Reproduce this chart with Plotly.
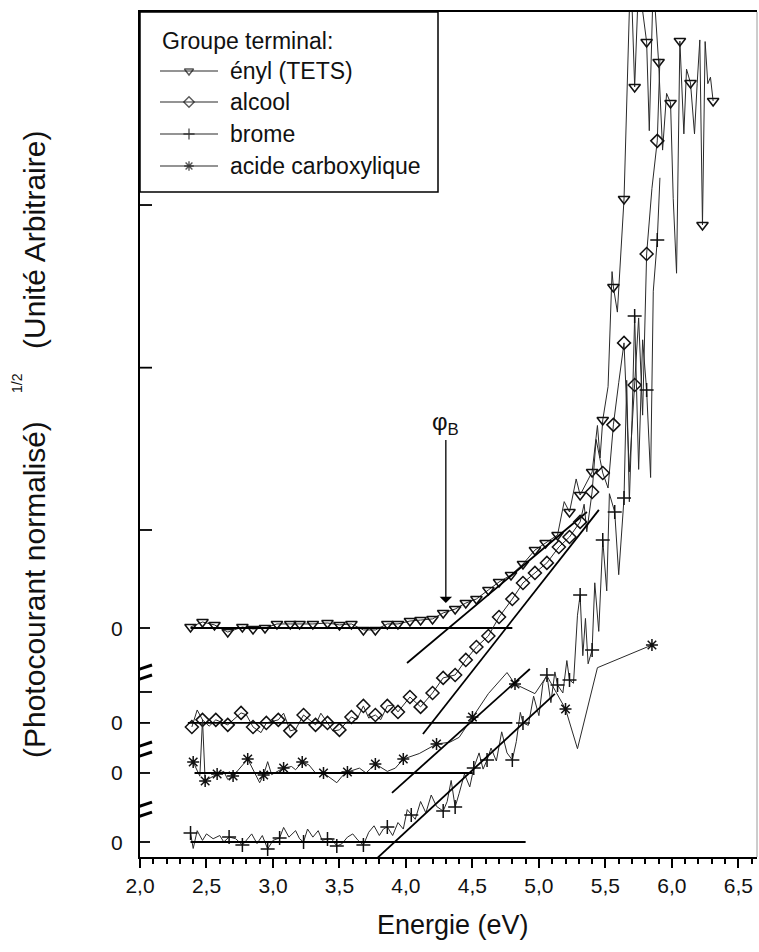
import plotly.graph_objects as go

# ---------------------------------------------------------------------------
# Data: photon energy (eV) and (normalized photocurrent)^1/2 in arbitrary
# units, each curve measured from its own zero level.
# Marker points carry the symbol; "extra" points are line-only samples.
# ---------------------------------------------------------------------------
enyl_E = [2.38, 2.47, 2.56, 2.66, 2.77, 2.85, 2.94, 3.03, 3.13, 3.20, 3.30, 3.41,
          3.50, 3.59, 3.68, 3.77, 3.86, 3.94, 4.03, 4.11, 4.20, 4.28, 4.37, 4.45,
          4.53, 4.62, 4.70, 4.79, 4.88, 4.97, 5.05, 5.14, 5.23, 5.31, 5.40, 5.48,
          5.56, 5.64, 5.72, 5.81, 5.90, 5.99, 6.06, 6.14, 6.23, 6.31]
enyl_Y = [0.006, 0.037, 0.019, -0.025, 0.006, -0.006, 0.000, 0.025, 0.025, 0.025,
          0.025, 0.031, 0.019, 0.025, -0.012, -0.012, 0.025, 0.025, 0.043, 0.049,
          0.056, 0.093, 0.117, 0.154, 0.179, 0.235, 0.284, 0.327, 0.395, 0.481,
          0.525, 0.574, 0.716, 0.821, 0.963, 1.284, 2.105, 2.648, 3.340, 3.617,
          3.494, 3.241, 3.623, 3.364, 2.488, 3.253]
enyl_extra_E = [5.19, 5.28, 5.44, 5.46, 5.52, 5.55, 5.59, 5.67, 5.69, 5.75, 5.83,
                5.86, 5.93, 5.96, 6.01, 6.035, 6.09, 6.11, 6.17, 6.19, 6.21, 6.25,
                6.27, 6.29]
enyl_extra_Y = [0.78, 0.92, 1.25, 1.05, 1.49, 2.20, 1.95, 3.45, 4.10, 4.00, 3.07,
                4.00, 2.95, 3.30, 2.65, 2.19, 3.05, 3.45, 3.05, 3.36, 3.63, 3.62,
                3.36, 3.40]

alcool_E = [2.39, 2.47, 2.57, 2.66, 2.76, 2.85, 2.95, 3.04, 3.13, 3.23, 3.32, 3.41,
            3.50, 3.59, 3.68, 3.77, 3.86, 3.94, 4.03, 4.11, 4.20, 4.28, 4.37, 4.45,
            4.53, 4.62, 4.70, 4.80, 4.88, 4.97, 5.06, 5.15, 5.23, 5.31, 5.40, 5.48,
            5.56, 5.64, 5.72, 5.81, 5.89]
alcool_Y = [-0.025, 0.019, 0.019, -0.012, 0.062, -0.025, 0.000, 0.019, -0.049,
            0.049, -0.012, 0.000, -0.043, 0.037, 0.105, 0.049, 0.105, 0.068, 0.160,
            0.099, 0.185, 0.278, 0.296, 0.389, 0.469, 0.537, 0.654, 0.765, 0.864,
            0.926, 0.988, 1.086, 1.148, 1.241, 1.426, 1.543, 1.840, 2.346, 2.086,
            2.895, 3.593]
alcool_extra_E = [2.43, 2.52, 2.80, 2.91, 3.08, 3.17, 3.36, 3.45, 3.63, 3.72, 3.81,
                  3.90, 5.34, 5.36, 5.43, 5.52, 5.60, 5.68, 5.75, 5.78, 5.85, 5.91]
alcool_extra_Y = [0.08, -0.02, 0.05, -0.06, 0.06, -0.04, 0.06, -0.05, 0.02, 0.03,
                  0.02, 0.11, 1.35, 1.18, 1.75, 1.45, 2.10, 1.55, 2.50, 1.90, 3.30,
                  4.10]

acide_E = [2.40, 2.49, 2.58, 2.70, 2.81, 2.93, 3.08, 3.22, 3.38, 3.56, 3.77, 3.98,
           4.23, 4.50, 4.82, 5.20, 5.85]
acide_Y = [0.068, -0.049, -0.006, -0.019, 0.086, -0.012, 0.031, 0.068, 0.000,
           0.006, 0.056, 0.086, 0.179, 0.346, 0.549, 0.395, 0.790]
acide_extra_E = [2.45, 2.47, 2.63, 2.66, 2.90, 2.96, 2.99, 3.14, 3.17, 3.27, 3.32,
                 3.48, 3.52, 3.65, 3.70, 3.86, 3.92, 4.10, 4.33, 4.40, 4.62, 4.76,
                 4.97, 5.06, 5.29, 5.44]
acide_extra_Y = [-0.02, 0.33, 0.01, -0.04, -0.06, 0.07, -0.01, 0.04, 0.02, 0.05,
                 0.00, -0.06, -0.02, 0.03, 0.00, 0.01, 0.03, 0.12, 0.19, 0.22, 0.49,
                 0.62, 0.49, 0.60, 0.15, 0.65]

brome_E = [2.38, 2.67, 2.77, 2.96, 3.05, 3.23, 3.41, 3.48, 3.68, 3.86, 4.04, 4.28,
           4.37, 4.51, 4.61, 4.80, 4.88, 5.06, 5.14, 5.23, 5.31, 5.40, 5.48, 5.57,
           5.64, 5.72, 5.81, 5.89]
brome_Y = [0.056, 0.031, -0.019, -0.043, 0.025, 0.000, 0.019, -0.025, -0.019,
           0.093, 0.167, 0.191, 0.216, 0.457, 0.506, 0.506, 0.735, 1.031, 0.969,
           1.000, 1.525, 1.185, 1.864, 2.037, 2.123, 3.247, 2.790, 3.716]
brome_extra_E = [2.40, 2.43, 2.47, 2.50, 2.55, 2.60, 2.63, 2.72, 2.80, 2.84, 2.88,
                 2.92, 3.00, 3.08, 3.12, 3.17, 3.20, 3.26, 3.30, 3.34, 3.37, 3.44,
                 3.52, 3.56, 3.60, 3.64, 3.72, 3.76, 3.80, 3.83, 3.90, 3.94, 3.98,
                 4.01, 4.07, 4.11, 4.15, 4.19, 4.23, 4.31, 4.34, 4.40, 4.44, 4.48,
                 4.55, 4.58, 4.64, 4.68, 4.72, 4.76, 4.83, 4.86, 4.92, 4.96, 5.00,
                 5.03, 5.09, 5.12, 5.18, 5.21, 5.26, 5.29, 5.33, 5.35, 5.37, 5.42,
                 5.45, 5.51, 5.53, 5.60, 5.66, 5.68, 5.70, 5.75, 5.78, 5.84, 5.86,
                 5.91]
brome_extra_Y = [-0.04, 0.07, 0.01, 0.05, 0.02, 0.04, 0.00, 0.02, 0.01, 0.05, -0.01,
                 0.04, 0.01, 0.09, 0.03, 0.07, 0.02, 0.08, 0.03, 0.07, 0.01, 0.02,
                 -0.01, 0.03, 0.05, 0.01, 0.06, 0.10, 0.04, 0.08, 0.04, 0.12, 0.08,
                 0.20, 0.14, 0.25, 0.18, 0.29, 0.22, 0.25, 0.38, 0.30, 0.42, 0.34,
                 0.55, 0.45, 0.58, 0.50, 0.68, 0.55, 0.62, 0.80, 0.72, 0.90, 0.78,
                 0.98, 0.86, 1.05, 0.92, 1.12, 0.98, 1.40, 1.15, 1.38, 1.10, 1.60,
                 1.30, 1.55, 2.15, 1.65, 2.85, 2.10, 2.60, 2.30, 3.10, 2.25, 3.40,
                 4.10]

# Zero level of each curve on the common (stacked) ordinate
offsets = {"enyl": 0.0, "alcool": -0.586, "acide": -0.895, "brome": -1.321}

# Linear fits: flat background (start, end) and threshold tangent ((E0, y0), (E1, y1))
fit_base = {"enyl": (2.38, 4.80), "alcool": (2.36, 4.80),
            "acide": (2.41, 4.50), "brome": (2.38, 4.90)}
fit_tangent = {"enyl": ((4.008, -0.216), (5.361, 0.716)),
               "alcool": ((4.128, -0.068), (5.451, 1.315)),
               "acide": ((3.895, -0.123), (4.932, 0.642)),
               "brome": ((3.720, -0.148), (5.120, 0.914))}

phi_B = 4.30          # barrier height marked on the ényl curve (eV)
phi_B_level = 0.154   # ordinate of the arrow tip on the ényl curve
axis_breaks = [-0.284, -0.759, -1.130]
inner_ticks = [-0.395, 0.605, 1.607, 2.611]

x_ticks = [2.0, 2.5, 3.0, 3.5, 4.0, 4.5, 5.0, 5.5, 6.0, 6.5]

series = [
    ("enyl", "ényl (TETS)", enyl_E, enyl_Y, enyl_extra_E, enyl_extra_Y, "triangle-down-open"),
    ("alcool", "alcool", alcool_E, alcool_Y, alcool_extra_E, alcool_extra_Y, "diamond-open"),
    ("brome", "brome", brome_E, brome_Y, brome_extra_E, brome_extra_Y, "cross-thin-open"),
    ("acide", "acide carboxylique", acide_E, acide_Y, acide_extra_E, acide_extra_Y, "asterisk-open"),
]

# ---------------------------------------------------------------------------
W, H = 759, 952
ML, MR, MT, MB = 140, 2, 12, 95
PW, PH = W - ML - MR, H - MT - MB
FONT = "Liberation Sans, Arial, Helvetica, sans-serif"
INK = "#111111"


def px_x(px):
    return (px - ML) / PW


def px_y(py):
    return (MT + PH - py) / PH


def label(x, y, text, size, angle=0, xanchor="center"):
    return dict(xref="paper", yref="paper", x=x, y=y, text=text, showarrow=False,
                textangle=angle, xanchor=xanchor, yanchor="middle",
                font=dict(size=size, family=FONT, color=INK))


fig = go.Figure()

for key, name, E, Y, xE, xY, sym in series:
    off = offsets[key]
    pts = sorted(zip(list(E) + list(xE), list(Y) + list(xY)))
    fig.add_trace(go.Scatter(
        x=[p[0] for p in pts], y=[p[1] + off for p in pts], mode="lines",
        line=dict(color="#2a2a2a", width=1), hoverinfo="skip", showlegend=False))
    fig.add_trace(go.Scatter(
        x=E, y=[v + off for v in Y], mode="markers", name=name, showlegend=False,
        marker=dict(symbol=sym, size=10, color=INK,
                    line=dict(color=INK, width=1.5))))
    # background fit and threshold tangent
    b0, b1 = fit_base[key]
    fig.add_trace(go.Scatter(x=[b0, b1], y=[off, off], mode="lines",
                             line=dict(color="black", width=1.8),
                             hoverinfo="skip", showlegend=False))
    (t0x, t0y), (t1x, t1y) = fit_tangent[key]
    fig.add_trace(go.Scatter(x=[t0x, t1x], y=[t0y + off, t1y + off], mode="lines",
                             line=dict(color="black", width=1.8),
                             hoverinfo="skip", showlegend=False))

# Legend glyphs drawn on a pixel-based overlay frame
leg_rows = [59, 90, 122, 154]
for (key, name, E, Y, xE, xY, sym), ry in zip(series, leg_rows):
    fig.add_trace(go.Scatter(
        x=[20, 49, 78], y=[ry, ry, ry], xaxis="x2", yaxis="y2",
        mode="lines+markers", showlegend=False, hoverinfo="skip",
        line=dict(color="#2a2a2a", width=1.2),
        marker=dict(symbol=sym, size=[0, 8, 0], color=INK,
                    line=dict(color=INK, width=1.4))))

shapes = []
# legend frame
shapes.append(dict(type="rect", xref="paper", yref="paper",
                   x0=px_x(140), x1=px_x(438), y0=px_y(192), y1=px_y(12),
                   line=dict(color="black", width=1.5)))
# right frame edge (faint)
shapes.append(dict(type="line", xref="paper", yref="paper", x0=1, x1=1, y0=0, y1=1,
                   line=dict(color="#9a9a9a", width=1)))
# inner ticks on the ordinate
for v in inner_ticks:
    shapes.append(dict(type="line", xref="x", yref="y", xsizemode="pixel", xanchor=2.0,
                       x0=0, x1=12, y0=v, y1=v, line=dict(color="black", width=1.8)))
# crossing ticks at each zero level
for v in offsets.values():
    shapes.append(dict(type="line", xref="x", yref="y", xsizemode="pixel", xanchor=2.0,
                       x0=-11, x1=10, y0=v, y1=v, line=dict(color="black", width=1.8)))
# axis-break marks
for v in axis_breaks:
    for dy in (-5, 5):
        shapes.append(dict(type="line", xref="x", yref="y", xsizemode="pixel", xanchor=2.0,
                           ysizemode="pixel", yanchor=v, x0=-12, x1=12, y0=dy - 4, y1=dy + 4,
                           line=dict(color="black", width=3)))

ann = []
for v in offsets.values():
    ann.append(dict(xref="paper", yref="y", x=0, y=v, text="0", showarrow=False,
                    xanchor="right", yanchor="middle", xshift=-15,
                    font=dict(size=21, family=FONT, color=INK)))
ann.append(label(px_x(160), px_y(41), "Groupe terminal:", 23, xanchor="left"))
for (key, name, *_), ry in zip(series, leg_rows):
    ann.append(label(px_x(228), px_y(ry + MT), name, 23, xanchor="left"))
# phi_B marker
ann.append(dict(x=phi_B, y=phi_B_level + offsets["enyl"], xref="x", yref="y",
                text="φ<sub>B</sub>", showarrow=True, arrowhead=1, arrowsize=1.6,
                arrowwidth=1.3, arrowcolor="black", ax=0, ay=-180, standoff=0,
                font=dict(size=24, family=FONT, color=INK)))
# axis titles
ann.append(label(px_x(453), px_y(925), "Energie (eV)", 27))
ann.append(label(px_x(34), px_y(590), "(Photocourant normalisé)", 30, angle=-90))
ann.append(label(px_x(34), px_y(240), "(Unité Arbitraire)", 30, angle=-90))
ann.append(label(px_x(17), px_y(383), "1/2", 14, angle=-90))

fig.update_layout(
    width=W, height=H, margin=dict(l=ML, r=MR, t=MT, b=MB),
    paper_bgcolor="white", plot_bgcolor="white",
    separators=", ", showlegend=False,
    font=dict(family=FONT, color=INK),
    xaxis=dict(range=[2.0, 6.64], tickvals=x_ticks, tickformat=".1f",
               ticks="outside", ticklen=9, tickwidth=2, tickcolor="black",
               minor=dict(dtick=0.1, ticks="outside", ticklen=5, tickwidth=2, tickcolor="black"),
               showline=True, linewidth=2.2, linecolor="black", mirror=True,
               showgrid=False, zeroline=False,
               tickfont=dict(size=21, family=FONT, color=INK)),
    yaxis=dict(range=[-1.4136, 3.8025], showticklabels=False, ticks="",
               showline=True, linewidth=2.2, linecolor="black",
               showgrid=False, zeroline=False),
    xaxis2=dict(overlaying="x", range=[0, PW], visible=False, anchor="y2"),
    yaxis2=dict(overlaying="y", range=[PH, 0], visible=False, anchor="x2"),
    shapes=shapes, annotations=ann,
)

fig.write_html("out.html")
